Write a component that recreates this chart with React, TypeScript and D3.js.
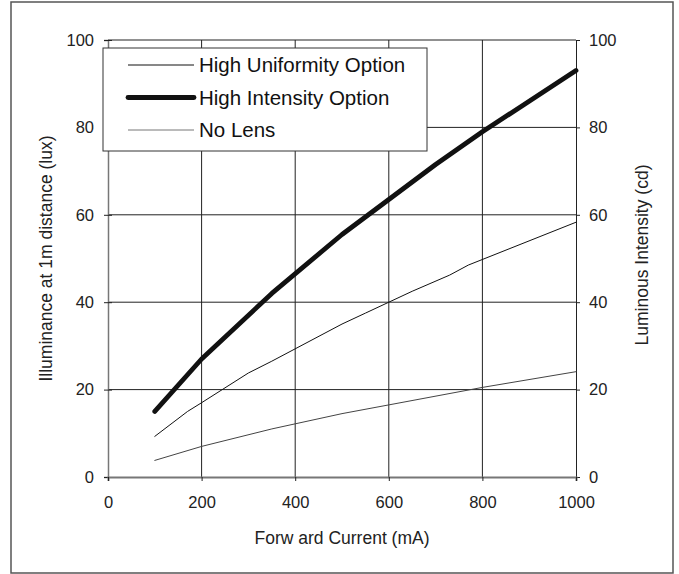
import { useEffect, useRef } from "react";
import * as d3 from "d3";

const currentTicks = [0, 200, 400, 600, 800, 1000];
const valueTicks = [0, 20, 40, 60, 80, 100];

// readings
const highIntensity: [number, number][] = [
  [100, 15], [200, 27], [350, 42], [500, 55.5], [700, 71.5], [800, 79], [1000, 93],
];
const highUniformity: [number, number][] = [
  [100, 9.3], [170, 15], [200, 17], [300, 23.8], [350, 26.5], [500, 35], [550, 37.5],
  [650, 42.5], [730, 46.2], [770, 48.5], [1000, 58.3],
];
const noLens: [number, number][] = [
  [100, 3.8], [200, 7], [350, 11], [500, 14.5], [600, 16.5], [800, 20.5], [1000, 24.1],
];

const seriesNames = ["High Uniformity Option", "High Intensity Option", "No Lens"];
const seriesData = [highUniformity, highIntensity, noLens];
const seriesWidth = [1, 4.8, 1];
const seriesColor = ["#111", "#111", "#444"];

const FONT = "'Liberation Sans', Arial, sans-serif";

export default function App() {
  const svgRef = useRef<SVGSVGElement | null>(null);

  useEffect(() => {
    const width = 679;
    const height = 574;
    const margin = { top: 40, right: 103, bottom: 97, left: 108 };

    const x = d3.scaleLinear().domain([0, 1000]).range([margin.left, width - margin.right]);
    const y = d3.scaleLinear().domain([0, 100]).range([height - margin.bottom, margin.top]);

    const svg = d3.select(svgRef.current).attr("width", width).attr("height", height).html("");

    svg
      .append("rect")
      .attr("x", 11)
      .attr("y", 2)
      .attr("width", 662)
      .attr("height", 571)
      .attr("fill", "white")
      .attr("stroke", "#555")
      .attr("stroke-width", 1.5);

    // grid
    const grid = svg.append("g").attr("stroke", "#222").attr("stroke-width", 1);
    grid
      .selectAll("line.v")
      .data(currentTicks.slice(1, -1))
      .join("line")
      .attr("class", "v")
      .attr("x1", (d) => x(d))
      .attr("x2", (d) => x(d))
      .attr("y1", y(0))
      .attr("y2", y(100));
    grid
      .selectAll("line.h")
      .data(valueTicks.slice(1))
      .join("line")
      .attr("class", "h")
      .attr("x1", x(0))
      .attr("x2", x(1000))
      .attr("y1", (d) => y(d))
      .attr("y2", (d) => y(d));

    const styleAxis = (g: d3.Selection<SVGGElement, unknown, null, undefined>) => {
      g.attr("font-family", FONT).attr("font-size", 16.5);
      g.selectAll("text").attr("fill", "#222");
      g.selectAll("line").attr("stroke", "#222");
    };
    const fmt = d3.format("d");

    const left = svg
      .append("g")
      .attr("transform", `translate(${x(0)},0)`)
      .call(d3.axisLeft(y).tickValues(valueTicks).tickFormat(fmt).tickSize(4).tickPadding(10));
    left.select(".domain").attr("stroke", "#777").attr("stroke-width", 1.5);
    left.selectAll(".tick line").attr("x1", 4);
    styleAxis(left);

    const right = svg
      .append("g")
      .attr("transform", `translate(${x(1000)},0)`)
      .call(d3.axisRight(y).tickValues(valueTicks).tickFormat(fmt).tickSize(4).tickPadding(9));
    right.select(".domain").attr("stroke", "#222");
    styleAxis(right);

    const bottom = svg
      .append("g")
      .attr("transform", `translate(0,${y(0)})`)
      .call(d3.axisBottom(x).tickValues(currentTicks).tickFormat(fmt).tickSize(4).tickPadding(15));
    bottom.select(".domain").attr("stroke", "#777").attr("stroke-width", 2);
    styleAxis(bottom);

    // axis titles
    svg
      .append("text")
      .attr("x", (x(0) + x(1000)) / 2)
      .attr("y", 544)
      .attr("text-anchor", "middle")
      .attr("font-family", FONT)
      .attr("font-size", 17.5)
      .attr("fill", "#222")
      .text("Forw ard Current (mA)");
    svg
      .append("text")
      .attr("transform", `translate(52,${(y(0) + y(100)) / 2}) rotate(-90)`)
      .attr("text-anchor", "middle")
      .attr("font-family", FONT)
      .attr("font-size", 17.5)
      .attr("fill", "#222")
      .text("Illuminance at 1m distance (lux)");
    svg
      .append("text")
      .attr("transform", `translate(648,255) rotate(-90)`)
      .attr("text-anchor", "middle")
      .attr("font-family", FONT)
      .attr("font-size", 17.5)
      .attr("fill", "#222")
      .text("Luminous Intensity (cd)");

    // curves
    const line = d3
      .line<[number, number]>()
      .x((d) => x(d[0]))
      .y((d) => y(d[1]));
    svg
      .selectAll("path.curve")
      .data(seriesData)
      .join("path")
      .attr("class", "curve")
      .attr("d", (d) => line(d))
      .attr("fill", "none")
      .attr("stroke", (_, i) => seriesColor[i])
      .attr("stroke-width", (_, i) => seriesWidth[i])
      .attr("stroke-linecap", "round")
      .attr("stroke-linejoin", "round");

    // legend
    const legend = svg.append("g");
    legend
      .append("rect")
      .attr("x", 103)
      .attr("y", 48)
      .attr("width", 324)
      .attr("height", 103)
      .attr("fill", "white")
      .attr("stroke", "#333")
      .attr("stroke-width", 1);
    const row = legend
      .selectAll("g.row")
      .data(seriesNames)
      .join("g")
      .attr("class", "row")
      .attr("transform", (_, i) => `translate(0,${65 + i * 32.5})`);
    row
      .append("line")
      .attr("x1", 128)
      .attr("x2", 194)
      .attr("stroke", (_, i) => (i === 2 ? "#777" : seriesColor[i]))
      .attr("stroke-width", (_, i) => seriesWidth[i])
      .attr("stroke-linecap", (_, i) => (i === 1 ? "round" : "butt"));
    row
      .append("text")
      .attr("x", 199)
      .attr("y", 7.3)
      .attr("font-family", FONT)
      .attr("font-size", 20.5)
      .attr("fill", "#111")
      .text((d) => d);
  }, []);

  return (
    <div style={{ position: "absolute", left: 0, top: 0 }}>
      <svg ref={svgRef}></svg>
    </div>
  );
}
